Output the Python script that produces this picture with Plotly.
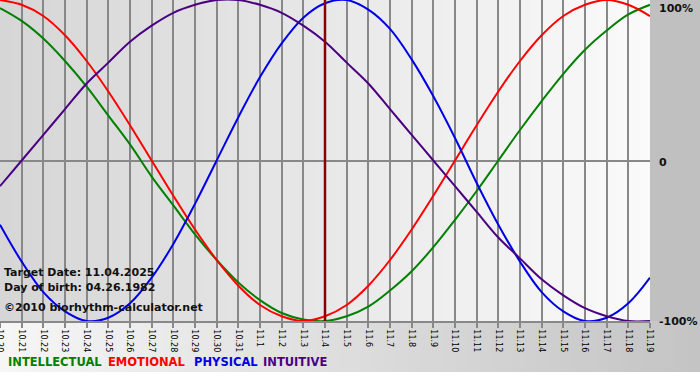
import plotly.graph_objects as go

# ---- data (in %) ----
days = ["10.20", "10.21", "10.22", "10.23", "10.24", "10.25", "10.26", "10.27", "10.28", "10.29",
        "10.30", "10.31", "11.1", "11.2", "11.3", "11.4", "11.5", "11.6", "11.7", "11.8",
        "11.9", "11.10", "11.11", "11.12", "11.13", "11.14", "11.15", "11.16", "11.17", "11.18", "11.19"]

intellectual = [95, 87, 76, 62, 46, 28, 10, -10, -28, -46, -62, -76, -87, -95, -99, -100,
                -97, -91, -81, -69, -54, -37, -19, 0, 19, 37, 54, 69, 81, 91, 97]
emotional = [100, 97, 90, 78, 62, 43, 22, 0, -22, -43, -62, -78, -90, -97, -100, -97,
             -90, -78, -62, -43, -22, 0, 22, 43, 62, 78, 90, 97, 100, 97, 90]
physical = [-40, -63, -82, -94, -100, -98, -89, -73, -52, -27, 0, 27, 52, 73, 89, 98,
            100, 94, 82, 63, 40, 14, -14, -40, -63, -82, -94, -100, -98, -89, -73]
intuitive = [-16, 0, 16, 32, 48, 61, 74, 84, 92, 97, 100, 100, 97, 92, 84, 74,
             61, 48, 32, 16, 0, -16, -32, -48, -61, -74, -84, -92, -97, -100, -100]

target_index = 15
target_text = "Target Date: 11.04.2025"
birth_text = "Day of birth: 04.26.1982"
credit_text = "©2010 biorhythm-calculator.net"

series = [
    ("INTELLECTUAL", intellectual, "#008000"),
    ("EMOTIONAL", emotional, "#ff0000"),
    ("PHYSICAL", physical, "#0000e6"),
    ("INTUITIVE", intuitive, "#4b0082"),
]

W, H = 700, 380
PL, PR = 0, 650      # plot area pixel x
PT, PB = 0, 321      # plot area pixel y

x = list(range(len(days)))
fig = go.Figure()
for name, vals, col in series:
    fig.add_trace(go.Scatter(x=x, y=vals, mode="lines", name=name,
                             line=dict(color=col, width=2, shape="spline", smoothing=1.0),
                             hoverinfo="skip", showlegend=False))


def px_x(p):
    return (p - PL) / (PR - PL)


def px_y(p):
    return 1 - (p - PT) / (PB - PT)


def mix(c1, c2, t):
    return "#%02x%02x%02x" % tuple(int(round(a + (b - a) * t)) for a, b in zip(c1, c2))


shapes = []
# plot area gradient
N = 60
for i in range(N):
    t = i / (N - 1)
    shapes.append(dict(type="rect", xref="paper", yref="paper",
                       x0=i / N, x1=(i + 1) / N + 0.002, y0=0, y1=1,
                       fillcolor=mix((214, 214, 214), (250, 250, 250), t),
                       line=dict(width=0), layer="below"))
# right panel
shapes.append(dict(type="rect", xref="paper", yref="paper",
                   x0=1, x1=px_x(W), y0=0, y1=1, fillcolor="#c0c0c0",
                   line=dict(width=0), layer="below"))
# bottom panel gradient
for i in range(N):
    t = i / (N - 1)
    shapes.append(dict(type="rect", xref="paper", yref="paper",
                       x0=px_x(W * i / N), x1=px_x(W * (i + 1) / N) + 0.002,
                       y0=px_y(372), y1=0,
                       fillcolor=mix((246, 246, 246), (196, 196, 196), t),
                       line=dict(width=0), layer="below"))
# target date line
shapes.append(dict(type="line", xref="x", yref="y", x0=target_index, x1=target_index,
                   y0=-100, y1=100, line=dict(color="#8b0000", width=2.5), layer="above"))

ann = []
bold = dict(family="DejaVu Sans", size=11, color="#111111")
for txt, yy in [("100%", 8), ("0", 163), ("-100%", 321)]:
    ann.append(dict(text="<b>%s</b>" % txt, xref="paper", yref="paper",
                    x=px_x(657), y=px_y(yy), xanchor="left", yanchor="middle",
                    showarrow=False, font=bold))
for txt, yy in [(target_text, 272), (birth_text, 287), (credit_text, 307)]:
    ann.append(dict(text="<b>%s</b>" % txt, xref="paper", yref="paper",
                    x=px_x(2), y=px_y(yy), xanchor="left", yanchor="middle",
                    showarrow=False, font=bold))
xpos = [6, 106, 192, 261]
for (name, vals, col), xp in zip(series, xpos):
    ann.append(dict(text="<b>%s</b>" % name, xref="paper", yref="paper",
                    x=px_x(xp), y=px_y(362), xanchor="left", yanchor="middle",
                    showarrow=False,
                    font=dict(family="DejaVu Sans", size=11.5, color=col)))

fig.update_layout(
    width=W, height=H,
    margin=dict(l=PL, r=W - PR, t=PT, b=H - PB, pad=0, autoexpand=False),
    paper_bgcolor="#ffffff", plot_bgcolor="rgba(0,0,0,0)",
    shapes=shapes, annotations=ann, showlegend=False,
    xaxis=dict(range=[0, 30], tickvals=x, ticktext=days, tickangle=90,
               tickfont=dict(family="DejaVu Sans", size=8, color="#000000"),
               ticklabeloverflow="allow", automargin=False,
               showgrid=True, gridcolor="#888888", gridwidth=1.5,
               ticks="outside", ticklen=5, tickcolor="#888888", tickwidth=1.5,
               showline=True, linecolor="#888888", linewidth=1.5,
               zeroline=False, fixedrange=True),
    yaxis=dict(range=[-100, 100], showgrid=False, showticklabels=False,
               automargin=False,
               zeroline=True, zerolinecolor="#888888", zerolinewidth=1.5,
               showline=False, fixedrange=True),
)

fig.write_html("out.html", config={"displayModeBar": False},
               post_script="document.body.style.margin='0';document.body.style.overflow='hidden';")
